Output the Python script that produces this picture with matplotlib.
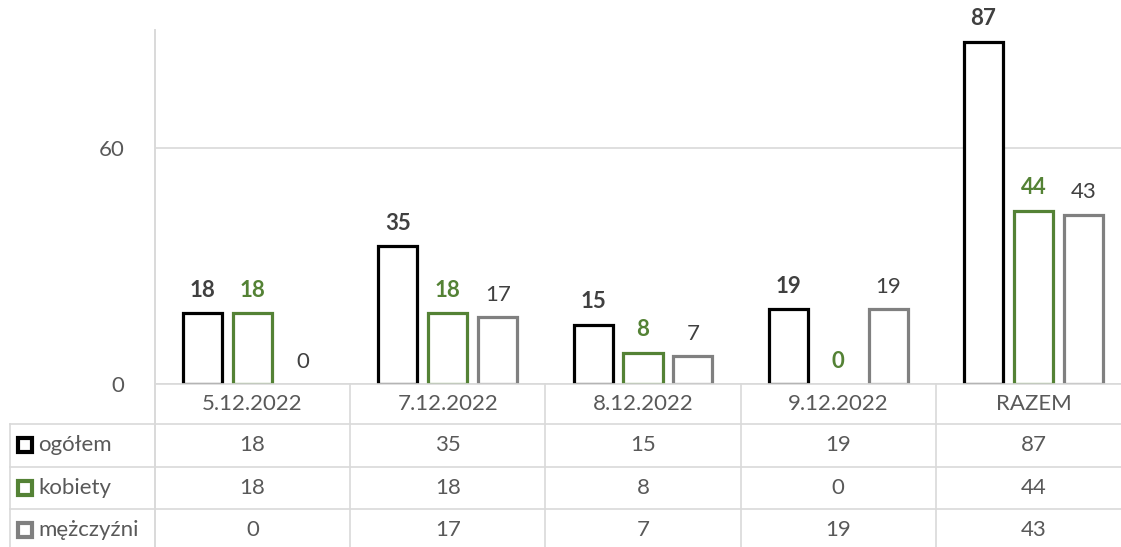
import matplotlib
matplotlib.use("Agg")
import matplotlib.pyplot as plt
from matplotlib.lines import Line2D
import matplotlib.transforms as mtransforms
import numpy as np

categories = ["5.12.2022", "7.12.2022", "8.12.2022", "9.12.2022", "RAZEM"]
series_names = ["ogółem", "kobiety", "mężczyźni"]
ogolem = [18, 35, 15, 19, 87]
kobiety = [18, 18, 8, 0, 44]
mezczyzni = [0, 17, 7, 19, 43]
yticks = [0, 60]

series = [ogolem, kobiety, mezczyzni]
colors = ["#000000", "#548235", "#808080"]
label_colors = ["#404040", "#548235", "#404040"]
label_weights = ["bold", "bold", "normal"]

W, H = 1121, 547
plt.rcParams["font.family"] = ["Lato", "DejaVu Sans"]
fig = plt.figure(figsize=(W / 100, H / 100), dpi=100)

def fx(px):
    return px / W

def fy(py):
    return 1 - py / H

ax_left, ax_right, ax_top, ax_bottom = 155, 1131, 30, 384
ax = fig.add_axes([fx(ax_left), fy(ax_bottom), fx(ax_right - ax_left), (ax_bottom - ax_top) / H])

x = np.arange(len(categories))
offsets = [-0.256, 0.0, 0.256]
bw = 0.2
for vals, off, col, lc, lw in zip(series, offsets, colors, label_colors, label_weights):
    bars = ax.bar(x + off, vals, width=bw, facecolor="white", edgecolor=col, linewidth=2.3, zorder=3)
    for b, v in zip(bars, vals):
        if v == 0:
            b.set_edgecolor("none")
    ax.bar_label(bars, padding=9, color=lc, fontweight=lw, fontsize=16)

ax.set_xlim(-0.5, len(categories) - 0.5)
ax.set_ylim(0, 90)
ax.set_yticks(yticks)
ax.set_xticks([])
ax.tick_params(axis="y", length=0, pad=22, labelsize=16, labelcolor="#595959")
for s in ["top", "right", "bottom"]:
    ax.spines[s].set_visible(False)
ax.spines["left"].set_color("#d9d9d9")
ax.spines["left"].set_linewidth(1.2)
ax.grid(axis="y", color="#d9d9d9", linewidth=1.2, zorder=0)
ax.set_axisbelow(True)

# ---- data table ----
gc = "#d9d9d9"
glw = 1.2
tc = "#595959"
blend = mtransforms.blended_transform_factory(ax.transData, fig.transFigure)

row_lines = [384, 424, 467, 509, 551]
header_center = 404
row_centers = [445, 488, 530]

fig.add_artist(Line2D([fx(ax_left), fx(ax_right)], [fy(384)] * 2, color=gc, lw=glw))
for py in row_lines[1:]:
    fig.add_artist(Line2D([fx(10), fx(ax_right)], [fy(py)] * 2, color=gc, lw=glw))
for b in np.arange(len(categories) + 1) - 0.5:
    ax.add_artist(Line2D([b, b], [fy(384), fy(560)], color=gc, lw=glw, transform=blend, clip_on=False))
fig.add_artist(Line2D([fx(10), fx(10)], [fy(424), fy(560)], color=gc, lw=glw))
fig.add_artist(Line2D([fx(ax_left), fx(ax_left)], [fy(30), fy(560)], color=gc, lw=glw))

for i, c in enumerate(categories):
    fig.text(i, fy(header_center), c, transform=blend, ha="center", va="center", fontsize=16, color=tc)

for r, (name, vals, col) in enumerate(zip(series_names, series, colors)):
    yc = fy(row_centers[r])
    fig.add_artist(Line2D([fx(25)], [yc], marker="s", markersize=10.5, markerfacecolor="white",
                          markeredgecolor=col, markeredgewidth=3.0, linestyle="none"))
    fig.text(fx(38), yc, name, ha="left", va="center", fontsize=16, color=tc)
    for i, v in enumerate(vals):
        fig.text(i, yc, str(v), transform=blend, ha="center", va="center", fontsize=16, color=tc)

fig.savefig("out.png", dpi=100)
